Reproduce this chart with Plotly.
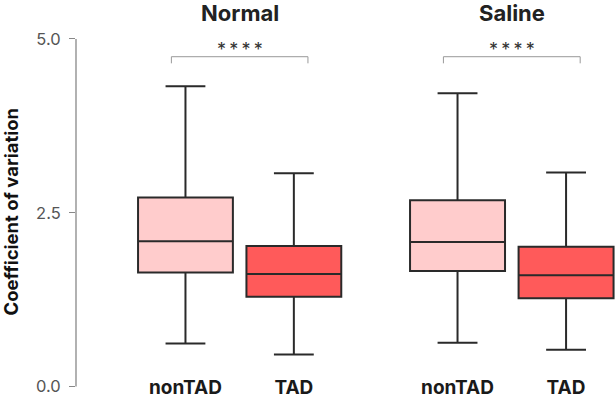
import plotly.graph_objects as go

panels = ["Normal", "Saline"]
categories = ["nonTAD", "TAD"]

# box statistics (per panel: nonTAD, TAD)
normal_lower = [0.62, 0.46]
normal_q1 = [1.64, 1.29]
normal_median = [2.09, 1.62]
normal_q3 = [2.72, 2.02]
normal_upper = [4.32, 3.07]

saline_lower = [0.63, 0.53]
saline_q1 = [1.66, 1.27]
saline_median = [2.08, 1.60]
saline_q3 = [2.68, 2.01]
saline_upper = [4.22, 3.08]

significance = ["****", "****"]
bracket_y = 4.745
stars_y = 4.85

y_ticks = [0.0, 2.5, 5.0]
y_ticktext = ["0.0", "2.5", "5.0"]

fills = ["#FFCCCC", "#FF5A5A"]
line_col = "#2a2a2a"
FONT = "Inter"

stats = {
    "Normal": (normal_lower, normal_q1, normal_median, normal_q3, normal_upper),
    "Saline": (saline_lower, saline_q1, saline_median, saline_q3, saline_upper),
}

fig = go.Figure()
for p_i, panel in enumerate(panels):
    lo, q1, med, q3, hi = stats[panel]
    xa = "x" if p_i == 0 else "x2"
    for c_i, cat in enumerate(categories):
        fig.add_trace(go.Box(
            x=[cat], lowerfence=[lo[c_i]], q1=[q1[c_i]], median=[med[c_i]],
            q3=[q3[c_i]], upperfence=[hi[c_i]],
            fillcolor=fills[c_i], line=dict(color=line_col, width=2),
            width=0.875, whiskerwidth=0.42, boxpoints=False,
            xaxis=xa, yaxis="y", showlegend=False, hoverinfo="skip",
        ))

ann = []
shapes = []
for p_i, panel in enumerate(panels):
    xr = "x" if p_i == 0 else "x2"
    ann.append(dict(x=0.5, y=(394 - 13) / 394, xref=xr, yref="paper", text="<b>%s</b>" % panel,
                    showarrow=False, yanchor="middle",
                    font=dict(family=FONT, size=22, color="#222")))
    stars = "\u2009".join(significance[p_i])
    ann.append(dict(x=0.5, y=stars_y, xref=xr, yref="y", text=stars,
                    showarrow=False, yanchor="middle",
                    font=dict(family=FONT, size=18, color="#333")))
    x0, x1 = -0.13, 1.13
    shapes.append(dict(type="line", xref=xr, yref="y", x0=x0, x1=x1, y0=bracket_y, y1=bracket_y,
                       line=dict(color="#999", width=1)))
    for xx in (x0, x1):
        shapes.append(dict(type="line", xref=xr, yref="y", x0=xx, x1=xx, y0=bracket_y, y1=bracket_y - 0.095,
                           line=dict(color="#999", width=1)))

# y axis title
ann.append(dict(x=(10 - 76) / 540, y=(394 - 211.5) / 394, xref="paper", yref="paper",
                text="<b>Coefficient of variation</b>", textangle=-90, showarrow=False,
                xanchor="center", yanchor="middle",
                font=dict(family=FONT, size=18.5, color="#111")))

# y axis line from 0 to 5
shapes.append(dict(type="line", xref="paper", yref="y", x0=0, x1=0, y0=y_ticks[0], y1=y_ticks[-1],
                   line=dict(color="#888", width=1.3)))

xtick = dict(showline=False, showgrid=False, zeroline=False, ticks="",
             tickfont=dict(family=FONT, size=19, color="#1a1a1a"),
             tickvals=categories, ticktext=["<b>%s</b>" % c for c in categories],
             anchor="free", position=0.051, automargin=False, ticklabeloverflow="allow")

fig.update_layout(
    width=616, height=394,
    margin=dict(l=76, r=0, t=0, b=0),
    plot_bgcolor="white", paper_bgcolor="white",
    boxmode="overlay",
    font=dict(family=FONT),
    xaxis=dict(domain=[0, 0.507], range=[-1.01, 1.516], **xtick),
    xaxis2=dict(domain=[0.6, 1], range=[-0.53, 1.46], **xtick),
    yaxis=dict(range=[-0.108, 5.561], showline=False, showgrid=False, zeroline=False,
               automargin=False, ticklabeloverflow="allow",
               tickvals=y_ticks, ticktext=y_ticktext, ticks="outside", ticklen=6,
               tickcolor="#888", tickwidth=1.3, ticklabelstandoff=5,
               tickfont=dict(family=FONT, size=16.5, color="#555")),
    annotations=ann, shapes=shapes,
)

fig.write_html("out.html", config={"displayModeBar": False},
               post_script="document.body.style.margin='0';document.body.style.overflow='hidden';")
